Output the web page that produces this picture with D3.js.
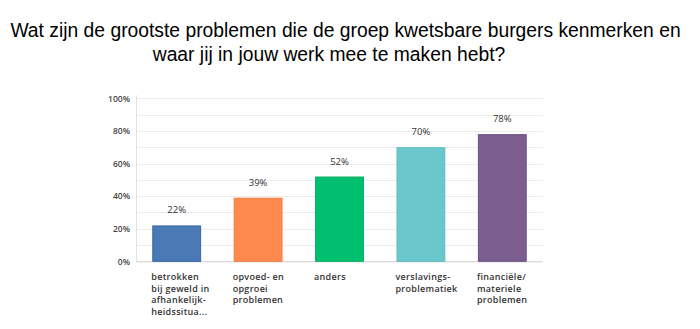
<!DOCTYPE html>
<html><head><meta charset="utf-8">
<script src="https://cdn.jsdelivr.net/npm/d3@7"></script>
<style>body{margin:0;background:#fff;}svg{display:block;}</style>
</head><body>
<svg id="c" width="700" height="329"></svg>
<script>
const categories = [
  ["betrokken","bij geweld in","afhankelijk-","heidssitua..."],
  ["opvoed- en","opgroei","problemen"],
  ["anders"],
  ["verslavings-","problematiek"],
  ["financiële/","materiele","problemen"]
];
const values = [22, 39, 52, 70, 78];
const colors = ["#4b79b5", "#ff8a4f", "#00bf6f", "#6ac8cc", "#7b5e8f"];
const strokes = ["#3565a8", "#f47a3a", "#00ad63", "#5bbcc0", "#6c4f82"];
const yTicks = [0, 20, 40, 60, 80, 100];
const title = ["Wat zijn de grootste problemen die de groep kwetsbare burgers kenmerken en", "waar jij in jouw werk mee te maken hebt?"];

const svg = d3.select("#c");
const mLeft = 136, mRight = 543, mTop = 98.3, mBottom = 261.3;
const x = d3.scaleBand().domain(d3.range(values.length)).range([mLeft, mRight]).paddingInner(0.4).paddingOuter(0.2);
const y = d3.scaleLinear().domain([0, 100]).range([mBottom, mTop]);

const titleX = [345.5, 329];
svg.append("g").selectAll("text").data(title).join("text")
  .attr("x", (d,i) => titleX[i]).attr("y", (d,i) => 36.7 + i*24.3)
  .attr("text-anchor", "middle")
  .attr("font-family", "Liberation Sans, Arial, sans-serif")
  .attr("font-size", 19.3).attr("fill", "#000").text(d => d);

// gridlines
svg.append("g").selectAll("line").data(d3.range(10, 101, 10)).join("line")
  .attr("x1", mLeft).attr("x2", mRight)
  .attr("y1", d => Math.round(y(d)) + 0.5).attr("y2", d => Math.round(y(d)) + 0.5)
  .attr("stroke", "#ececec").attr("stroke-width", 1);

// y axis
const yAxis = d3.axisLeft(y).tickValues(yTicks).tickFormat(d => d + "%").tickSize(0).tickPadding(6);
const ga = svg.append("g").attr("transform", `translate(${mLeft},0)`).call(yAxis);
ga.select(".domain").attr("stroke", "#e3e3e3").attr("d", `M0.5,${mTop - 3}V${mBottom}`);
ga.selectAll("text").attr("font-family", "'Open Sans', 'Noto Sans', sans-serif").attr("font-size", 8.5)
  .attr("font-weight", 600).attr("fill", "#444").attr("x", -6);

// baseline
svg.append("line").attr("x1", mLeft).attr("x2", mRight)
  .attr("y1", mBottom + 0.5).attr("y2", mBottom + 0.5).attr("stroke", "#cfcfcf");

// bars
svg.append("g").selectAll("rect").data(values).join("rect")
  .attr("x", (d,i) => x(i) + 0.5).attr("width", x.bandwidth() - 1)
  .attr("y", d => y(d) + 0.5).attr("height", d => mBottom - y(d) - 0.5)
  .attr("fill", (d,i) => colors[i]).attr("stroke", (d,i) => strokes[i]).attr("stroke-width", 1);

// value labels
svg.append("g").selectAll("text").data(values).join("text")
  .attr("x", (d,i) => x(i) + x.bandwidth()/2).attr("y", d => y(d) - 12)
  .attr("text-anchor", "middle")
  .attr("font-family", "'Open Sans', 'Noto Sans', sans-serif").attr("font-size", 9.5)
  .attr("font-weight", 500).attr("fill", "#333").text(d => d + "%");

// category labels
const cg = svg.append("g").selectAll("text").data(categories).join("text")
  .attr("x", (d,i) => x(i) - 1).attr("y", 280)
  .attr("font-family", "'Open Sans', 'Noto Sans', sans-serif").attr("font-size", 9)
  .attr("font-weight", 600).attr("letter-spacing", 0.3)
  .attr("fill", "#333");
cg.selectAll("tspan").data(d => d).join("tspan")
  .attr("x", function(){ return this.parentNode.getAttribute("x"); })
  .attr("dy", (d,i) => i === 0 ? 0 : 11.7).text(d => d);
</script>
</body></html>
